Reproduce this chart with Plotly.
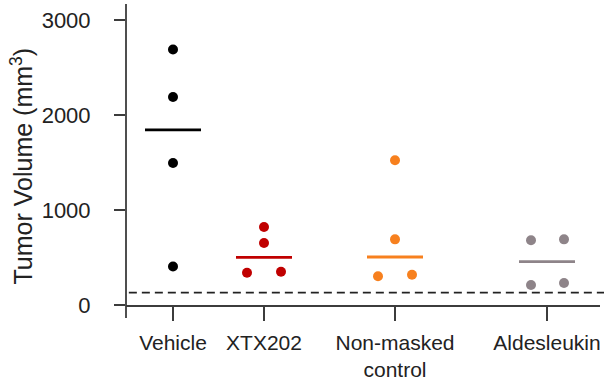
import numpy as np
import plotly.graph_objects as go

# ---- data ----
groups = ["Vehicle", "XTX202", "Non-masked<br>control", "Aldesleukin"]
vehicle = [2690, 2190, 1495, 405]
xtx202 = [821, 653, 340, 350]
non_masked = [1523, 691, 302, 319]
aldesleukin = [681, 691, 210, 231]
threshold = 130
y_ticks = [0, 1000, 2000, 3000]

# ---- layout / style ----
W, H = 604, 385
ML, MR, MT, MB = 126, 4, 4, 80
PW = W - ML - MR
PH = H - MT - MB
group_pos = [47, 138, 269, 421]          # x positions (plot-pixel units)
jitter = [[0, 0, 0, 0], [0, 0, -17, 17], [0, 0, -17, 17], [-16, 17, -16, 17]]
colors = ["#000000", "#C00000", "#F7801E", "#8E8489"]
half_w = 28
axis_col = "#3c3c3c"
font_fam = "Liberation Sans, Arial, sans-serif"

series = [vehicle, xtx202, non_masked, aldesleukin]

fig = go.Figure()
for i, vals in enumerate(series):
    xs = [group_pos[i] + j for j in jitter[i]]
    fig.add_trace(go.Scatter(x=xs, y=vals, mode="markers",
                             marker=dict(size=10, color=colors[i], line=dict(width=0)),
                             showlegend=False, cliponaxis=False))
    med = float(np.median(vals))
    fig.add_trace(go.Scatter(x=[group_pos[i] - half_w, group_pos[i] + half_w], y=[med, med],
                             mode="lines", line=dict(color=colors[i], width=2.8),
                             showlegend=False))

fig.update_layout(
    width=W, height=H,
    margin=dict(l=ML, r=MR, t=MT, b=MB),
    plot_bgcolor="white", paper_bgcolor="white",
    font=dict(family=font_fam, size=21, color="#222222"),
    xaxis=dict(range=[0, PW], tickmode="array", tickvals=group_pos, ticktext=groups,
               ticks="outside", ticklen=14, tickwidth=1.8, tickcolor=axis_col,
               ticklabelstandoff=4,
               showline=True, linecolor=axis_col, linewidth=1.8,
               showgrid=False, zeroline=False, fixedrange=True),
    yaxis=dict(range=[0, 3168], tickmode="array", tickvals=y_ticks,
               ticks="outside", ticklen=11, tickwidth=1.8, tickcolor=axis_col,
               ticklabelstandoff=19, tickfont=dict(size=22),
               showline=False, showgrid=False, zeroline=False, fixedrange=True),
)

# y axis line extending slightly below zero
fig.add_shape(type="line", xref="paper", yref="paper", x0=0, x1=0,
              y0=-(318 - (MT + PH)) / PH, y1=1,
              line=dict(color=axis_col, width=1.8))
# dashed threshold line
fig.add_shape(type="line", xref="paper", yref="y", x0=0.006, x1=(W - ML) / PW,
              y0=threshold, y1=threshold,
              line=dict(color="#222222", width=1.8, dash="8px,5px"))

fig.add_annotation(text="Tumor Volume (mm<sup>3</sup>)", textangle=-90,
                   xref="paper", yref="paper",
                   x=(21.5 - ML) / PW, y=(MT + PH - 166) / PH,
                   xanchor="center", yanchor="middle", showarrow=False,
                   font=dict(family=font_fam, size=25, color="#222222"))

fig.write_html("out.html", config={"displayModeBar": False},
               post_script="document.body.style.margin='0';document.body.style.overflow='hidden';")
